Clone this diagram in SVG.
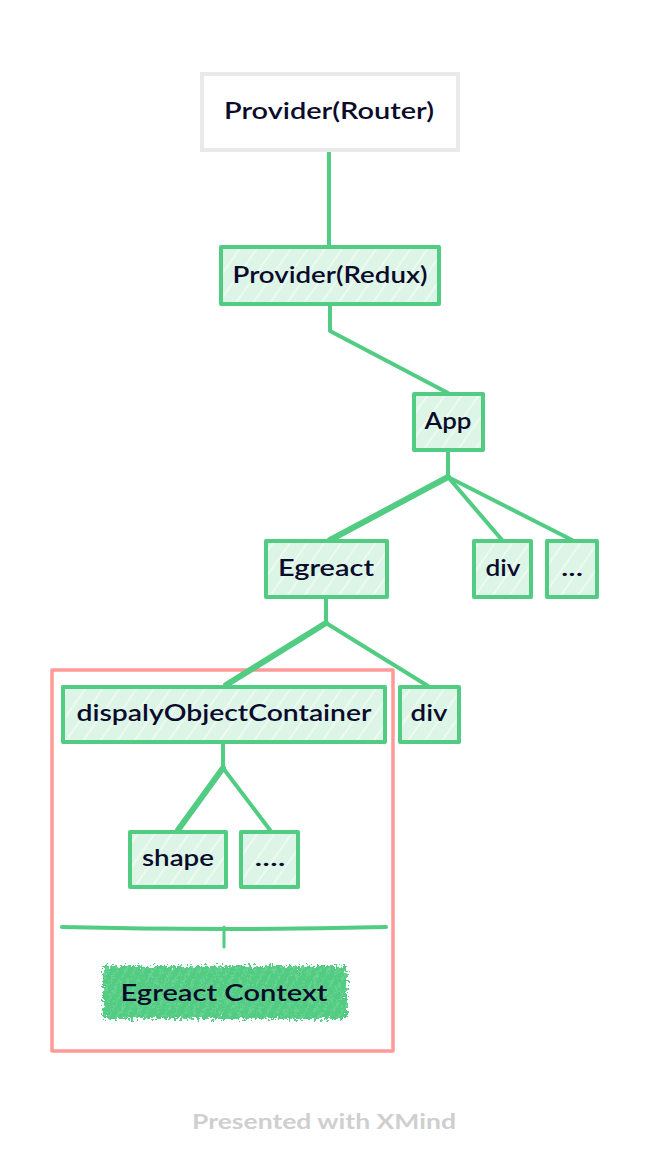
<svg xmlns="http://www.w3.org/2000/svg" width="648" height="1172" viewBox="0 0 648 1172">
<defs>
<pattern id="hatch" width="14" height="14" patternUnits="userSpaceOnUse" patternTransform="rotate(-55)">
<rect width="14" height="14" fill="#ddf5e7"/>
<line x1="0" y1="3" x2="14" y2="3" stroke="#ffffff" stroke-width="1.2" stroke-opacity="0.8"/>
</pattern>
<pattern id="hatch2" width="8" height="8" patternUnits="userSpaceOnUse" patternTransform="rotate(-60)">
<rect width="8" height="8" fill="#52cc83"/>
<line x1="0" y1="2" x2="8" y2="2" stroke="#ffffff" stroke-width="0.8" stroke-opacity="0.35"/>
</pattern>
<filter id="rough" x="-10%" y="-25%" width="120%" height="150%">
<feTurbulence type="fractalNoise" baseFrequency="0.35" numOctaves="2" seed="3" result="n"/>
<feDisplacementMap in="SourceGraphic" in2="n" scale="12" xChannelSelector="R" yChannelSelector="G"/>
</filter>
<style>
.node rect.b{fill:url(#hatch);stroke:#52cc83;stroke-width:4;stroke-linejoin:round}
.t{font-family:"Lato","Noto Sans",sans-serif;font-size:22px;font-weight:600;fill:#0b0b2b;text-anchor:middle}
.con path{fill:none;stroke:#52cc83;stroke-width:4;stroke-linecap:round;stroke-linejoin:round}
</style>
</defs>
<rect width="648" height="1172" fill="#ffffff"/>

<g id="boundary">
<rect x="52" y="670" width="341" height="381" fill="none" stroke="#ff9a98" stroke-width="3.5" stroke-linejoin="round"/>
</g>

<g class="con" id="connectors">
<path d="M329 151 L329 245"/>
<path d="M330 305 L330 331 L448 393"/>
<path d="M448 451 L448 477"/>
<path d="M448 477 L330 540" style="stroke-width:6"/>
<path d="M448 477 L502 540"/>
<path d="M448 477 L572 540"/>
<path d="M326 598 L326 623"/>
<path d="M326 623 L226 685" style="stroke-width:6"/>
<path d="M326 623 L428 686"/>
<path d="M223 743 L223 768"/>
<path d="M223 768 L178 830" style="stroke-width:6"/>
<path d="M223 768 L270 830"/>
<path d="M62 927 Q224 931 386 927"/>
<path d="M224 927 L224 947" style="stroke-width:3"/>
</g>

<g id="n-router" class="node">
<rect x="202" y="74" width="256" height="76" fill="#ffffff" stroke="#e9e8ea" stroke-width="4"/>
<text class="t" x="329" y="119" textLength="210" lengthAdjust="spacingAndGlyphs">Provider(Router)</text>
</g>
<g id="n-redux" class="node">
<rect class="b" x="221" y="247" width="218" height="57"/>
<text class="t" x="330" y="283" textLength="195" lengthAdjust="spacingAndGlyphs">Provider(Redux)</text>
</g>
<g id="n-app" class="node">
<rect class="b" x="414" y="394" width="69" height="56"/>
<text class="t" x="448" y="429" textLength="47" lengthAdjust="spacingAndGlyphs">App</text>
</g>
<g id="n-egreact" class="node">
<rect class="b" x="266" y="541" width="121" height="56"/>
<text class="t" x="326" y="576" textLength="96" lengthAdjust="spacingAndGlyphs">Egreact</text>
</g>
<g id="n-div1" class="node">
<rect class="b" x="474" y="541" width="57" height="56"/>
<text class="t" x="503" y="576" textLength="35" lengthAdjust="spacingAndGlyphs">div</text>
</g>
<g id="n-more1" class="node">
<rect class="b" x="547" y="541" width="50" height="56"/>
<text class="t" x="572" y="576" textLength="22" lengthAdjust="spacingAndGlyphs">...</text>
</g>
<g id="n-doc" class="node">
<rect class="b" x="63" y="687" width="322" height="55"/>
<text class="t" x="224" y="721" textLength="295" lengthAdjust="spacingAndGlyphs">dispalyObjectContainer</text>
</g>
<g id="n-div2" class="node">
<rect class="b" x="400" y="687" width="59" height="55"/>
<text class="t" x="429" y="721" textLength="37" lengthAdjust="spacingAndGlyphs">div</text>
</g>
<g id="n-shape" class="node">
<rect class="b" x="130" y="832" width="96" height="55"/>
<text class="t" x="178" y="866" textLength="72" lengthAdjust="spacingAndGlyphs">shape</text>
</g>
<g id="n-more2" class="node">
<rect class="b" x="241" y="832" width="57" height="55"/>
<text class="t" x="270" y="866" textLength="31" lengthAdjust="spacingAndGlyphs">....</text>
</g>
<g id="n-context" class="node">
<rect x="103" y="966" width="244" height="53" fill="url(#hatch2)" filter="url(#rough)"/>
<text class="t" x="224" y="1001" textLength="207" lengthAdjust="spacingAndGlyphs">Egreact Context</text>
</g>

<text x="324" y="1129" style="font-family:'Lato','Noto Sans',sans-serif;font-size:21px;font-weight:700;fill:#cfcfcf;text-anchor:middle" textLength="264" lengthAdjust="spacingAndGlyphs">Presented with XMind</text>
</svg>
